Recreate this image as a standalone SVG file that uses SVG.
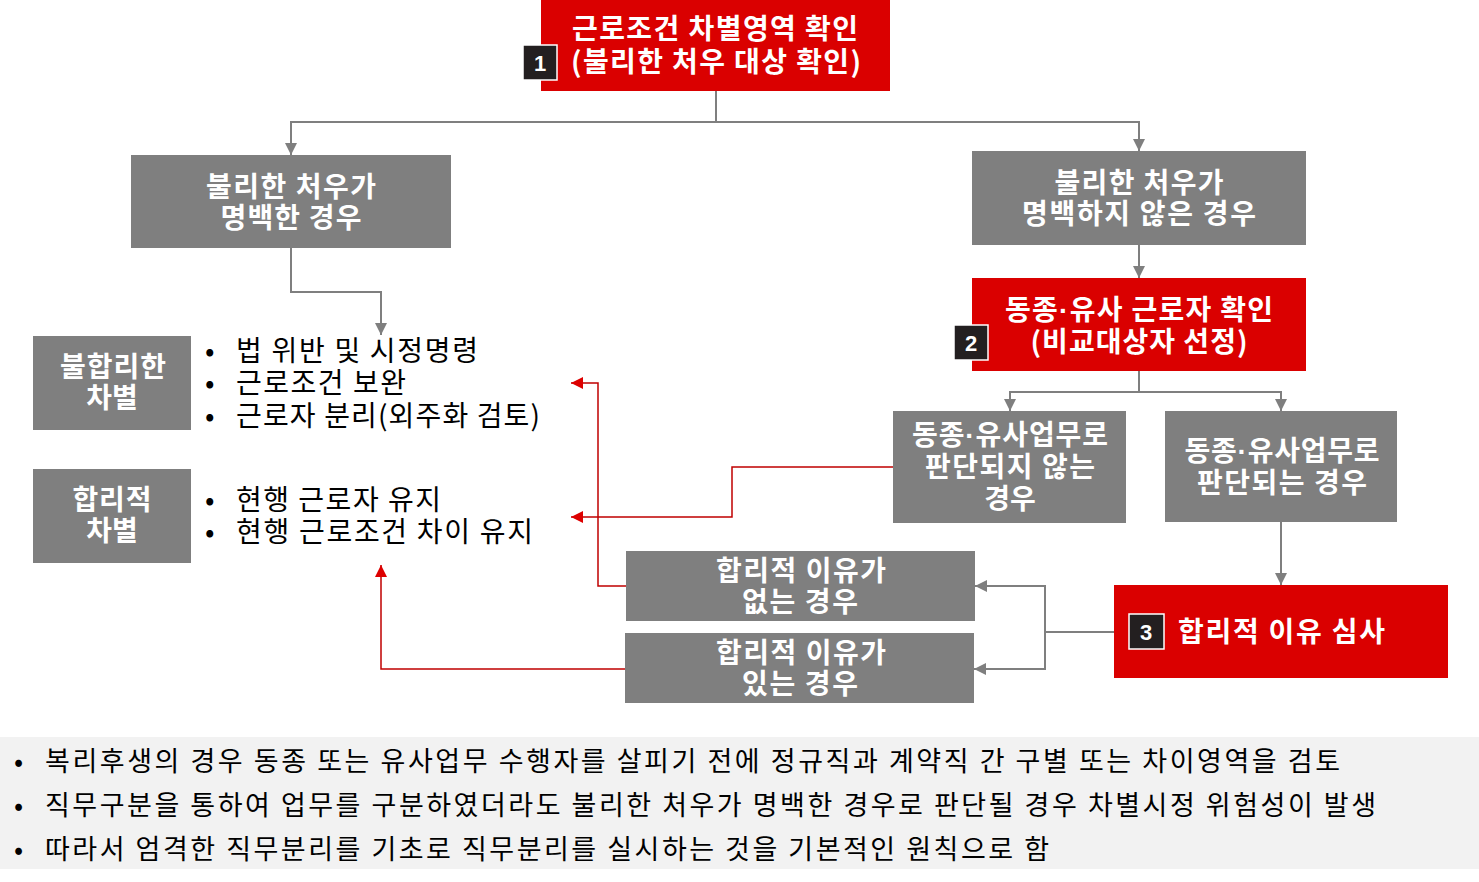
<svg xmlns="http://www.w3.org/2000/svg" width="1479" height="882" viewBox="0 0 1479 882">
<style>
.red{fill:#da0000}
.gray{fill:#7f7f7f}
.wt{fill:#ffffff;font-family:"Noto Sans CJK KR","Noto Sans",sans-serif;font-weight:bold;font-size:28px;text-anchor:middle}
.dot{font-family:"Liberation Sans",Arial,sans-serif}
.badge{fill:#231f20;stroke:#ffffff;stroke-width:1.5}
.bn{fill:#ffffff;font-family:"Liberation Sans",Arial,sans-serif;font-weight:bold;font-size:22px;text-anchor:middle}
.bt{fill:#000000;font-family:"Noto Sans CJK KR","Noto Sans",sans-serif;font-size:28px}
.bb{fill:#000000;font-family:"Noto Sans CJK KR","Noto Sans",sans-serif;font-size:27px}
.gc{fill:none;stroke:#7f7f7f;stroke-width:2}
.rc{fill:none;stroke:#c00000;stroke-width:1.5}
</style>
<defs>
<marker id="ga" markerUnits="userSpaceOnUse" markerWidth="14" markerHeight="14" refX="12" refY="6" orient="auto"><path d="M0,0 L12,6 L0,12 z" fill="#7f7f7f"/></marker>
<marker id="ra" markerUnits="userSpaceOnUse" markerWidth="14" markerHeight="14" refX="12" refY="6" orient="auto"><path d="M0,0 L12,6 L0,12 z" fill="#dd0000"/></marker>
</defs>
<rect x="0" y="737" width="1479" height="132" fill="#f2f2f2"/>
<g id="connectors">
<path class="gc" d="M716,91 V122 H291 V155" marker-end="url(#ga)"/>
<path class="gc" d="M716,122 H1139 V151" marker-end="url(#ga)"/>
<path class="gc" d="M1139,245 V278" marker-end="url(#ga)"/>
<path class="gc" d="M1139,371 V392 H1010 V411" marker-end="url(#ga)"/>
<path class="gc" d="M1139,392 H1281 V411" marker-end="url(#ga)"/>
<path class="gc" d="M1281,522 V585" marker-end="url(#ga)"/>
<path class="gc" d="M1114,632 H1045 V586 H975" marker-end="url(#ga)"/>
<path class="gc" d="M1045,632 V669 H974" marker-end="url(#ga)"/>
<path class="gc" d="M291,248 V292 H381 V335" marker-end="url(#ga)"/>
<path class="rc" d="M626,586 H598 V383 H571" marker-end="url(#ra)"/>
<path class="rc" d="M893,467 H732 V517 H571" marker-end="url(#ra)"/>
<path class="rc" d="M625,669 H381 V565" marker-end="url(#ra)"/>
</g>
<g id="n1">
<rect class="red" x="541" y="0" width="349" height="91"/>
<text class="wt" x="715" y="39" textLength="286" lengthAdjust="spacing">근로조건 차별영역 확인</text>
<text class="wt" x="716" y="72" textLength="290" lengthAdjust="spacing">(불리한 처우 대상 확인)</text>
<rect class="badge" x="523" y="45" width="34" height="35"/>
<text class="bn" x="540" y="71">1</text>
</g>
<g id="n2">
<rect class="gray" x="131" y="155" width="320" height="93"/>
<text class="wt" x="291" y="197" textLength="170" lengthAdjust="spacing">불리한 처우가</text>
<text class="wt" x="291" y="228" textLength="141" lengthAdjust="spacing">명백한 경우</text>
</g>
<g id="n3">
<rect class="gray" x="972" y="151" width="334" height="94"/>
<text class="wt" x="1139" y="193" textLength="169" lengthAdjust="spacing">불리한 처우가</text>
<text class="wt" x="1139" y="224" textLength="234" lengthAdjust="spacing">명백하지 않은 경우</text>
</g>
<g id="n4">
<rect class="red" x="972" y="278" width="334" height="93"/>
<text class="wt" x="1139" y="320" textLength="268" lengthAdjust="spacing">동종<tspan class="dot">·</tspan>유사 근로자 확인</text>
<text class="wt" x="1139" y="352" textLength="217" lengthAdjust="spacing">(비교대상자 선정)</text>
<rect class="badge" x="954" y="325" width="34" height="35"/>
<text class="bn" x="971" y="351">2</text>
</g>
<g id="n5">
<rect class="gray" x="893" y="411" width="233" height="112"/>
<text class="wt" x="1010" y="445" textLength="196" lengthAdjust="spacing">동종<tspan class="dot">·</tspan>유사업무로</text>
<text class="wt" x="1010" y="477" textLength="170" lengthAdjust="spacing">판단되지 않는</text>
<text class="wt" x="1010" y="509">경우</text>
</g>
<g id="n6">
<rect class="gray" x="1165" y="411" width="232" height="111"/>
<text class="wt" x="1282" y="461" textLength="195" lengthAdjust="spacing">동종<tspan class="dot">·</tspan>유사업무로</text>
<text class="wt" x="1282" y="493" textLength="170" lengthAdjust="spacing">판단되는 경우</text>
</g>
<g id="n7">
<rect class="red" x="1114" y="585" width="334" height="93"/>
<rect class="badge" x="1129" y="614" width="35" height="35"/>
<text class="bn" x="1146" y="640">3</text>
<text class="wt" x="1178" y="642" style="text-anchor:start" textLength="207" lengthAdjust="spacing">합리적 이유 심사</text>
</g>
<g id="n8">
<rect class="gray" x="626" y="551" width="349" height="70"/>
<text class="wt" x="801" y="581" textLength="170" lengthAdjust="spacing">합리적 이유가</text>
<text class="wt" x="800" y="612" textLength="116" lengthAdjust="spacing">없는 경우</text>
</g>
<g id="n9">
<rect class="gray" x="625" y="633" width="349" height="70"/>
<text class="wt" x="801" y="663" textLength="170" lengthAdjust="spacing">합리적 이유가</text>
<text class="wt" x="800" y="694" textLength="116" lengthAdjust="spacing">있는 경우</text>
</g>
<g id="n10">
<rect class="gray" x="33" y="336" width="158" height="94"/>
<text class="wt" x="113" y="377" textLength="106" lengthAdjust="spacing">불합리한</text>
<text class="wt" x="112" y="408">차별</text>
</g>
<g id="n11">
<rect class="gray" x="33" y="469" width="158" height="94"/>
<text class="wt" x="112" y="510" textLength="79" lengthAdjust="spacing">합리적</text>
<text class="wt" x="112" y="541">차별</text>
</g>
<g id="list1">
<text class="bt" x="205" y="361">•</text><text class="bt" x="236" y="361" textLength="242" lengthAdjust="spacing">법 위반 및 시정명령</text>
<text class="bt" x="205" y="393">•</text><text class="bt" x="236" y="393" textLength="170" lengthAdjust="spacing">근로조건 보완</text>
<text class="bt" x="205" y="426">•</text><text class="bt" x="236" y="426" textLength="304" lengthAdjust="spacing">근로자 분리(외주화 검토)</text>
</g>
<g id="list2">
<text class="bt" x="205" y="510">•</text><text class="bt" x="236" y="510" textLength="205" lengthAdjust="spacing">현행 근로자 유지</text>
<text class="bt" x="205" y="542">•</text><text class="bt" x="236" y="542" textLength="297" lengthAdjust="spacing">현행 근로조건 차이 유지</text>
</g>
<g id="notes">
<text class="bb" x="14" y="771">•</text><text class="bb" x="45" y="771" textLength="1295" lengthAdjust="spacing">복리후생의 경우 동종 또는 유사업무 수행자를 살피기 전에 정규직과 계약직 간 구별 또는 차이영역을 검토</text>
<text class="bb" x="14" y="815">•</text><text class="bb" x="45" y="815" textLength="1331" lengthAdjust="spacing">직무구분을 통하여 업무를 구분하였더라도 불리한 처우가 명백한 경우로 판단될 경우 차별시정 위험성이 발생</text>
<text class="bb" x="14" y="859">•</text><text class="bb" x="45" y="859" textLength="1004" lengthAdjust="spacing">따라서 엄격한 직무분리를 기초로 직무분리를 실시하는 것을 기본적인 원칙으로 함</text>
</g>
</svg>
